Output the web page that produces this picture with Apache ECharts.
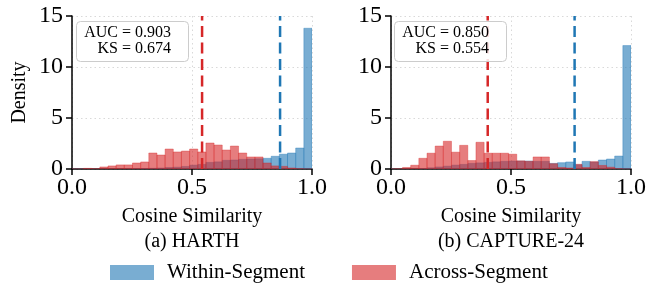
<!DOCTYPE html>
<html><head><meta charset="utf-8">
<script src="https://cdn.jsdelivr.net/npm/echarts@6/dist/echarts.min.js"></script>
<style>html,body{margin:0;padding:0;background:#fff}#c{width:659px;height:284px}</style>
</head><body><div id="c"></div>
<script>
// ---- data ----
const binStart = -0.02;
const binWidth = 0.034;
const harthWithin   = [0,0,0,0,0,0,0,0.02,0.03,0.05,0.07,0.1,0.15,0.18,0.25,0.38,0.45,0.65,0.7,0.85,0.88,0.95,0.98,1.0,1.05,1.25,1.45,1.57,2.06,13.8];
const harthAcross   = [0,0,0.06,0.03,0.2,0.3,0.4,0.4,0.59,0.69,1.57,1.37,1.96,1.67,1.76,1.96,1.67,2.55,2.35,1.86,2.25,1.57,1.18,1.18,0.59,0.3,0.26,0.1,0.03,0];
const captureWithin = [0,0,0,0,0.05,0.12,0.2,0.28,0.38,0.45,0.55,0.6,0.65,0.7,0.75,0.78,0.78,0.78,0.75,0.75,0.55,0.62,0.69,0.42,0.75,0.68,0.88,0.98,1.27,12.1];
const captureAcross = [0,0.02,0.15,0.37,1.05,1.55,2.25,2.72,1.65,2.32,0.83,2.62,1.55,1.55,1.55,1.45,0.8,0.75,1.18,1.18,0.52,0.15,0.1,0.46,0.15,0.72,0.35,0.18,0.03,0];
const meanWithin = [0.867, 0.765];
const meanAcross = [0.542, 0.403];
const aucValues = ['0.903', '0.850'];
const ksValues = ['0.674', '0.554'];
const panelTitles = ['(a) HARTH', '(b) CAPTURE-24'];
const seriesNames = ['Within-Segment', 'Across-Segment'];
const xLabel = 'Cosine Similarity';
const yLabel = 'Density';

// ---- styling ----
const FONT = "'Liberation Serif','Times New Roman',serif";
const BLUE = 'rgba(31,119,180,0.6)';
const RED = 'rgba(214,39,40,0.6)';
const BLUE_LINE = '#1f77b4';
const RED_LINE = '#d62728';

function toBins(vals) {
  return vals.map((v, k) => [binStart + k * binWidth, binStart + (k + 1) * binWidth, v]);
}
function makeRender(color) {
  return function (params, api) {
    const p0 = api.coord([api.value(0), 0]);
    const p1 = api.coord([api.value(1), api.value(2)]);
    return {
      type: 'rect',
      shape: { x: p0[0], y: p1[1], width: p1[0] - p0[0], height: p0[1] - p1[1] },
      style: { fill: color, stroke: color, lineWidth: 0.6 }
    };
  };
}

const grids = [
  { left: 72, right: 347, top: 16, bottom: 115 },
  { left: 391, right: 28, top: 16, bottom: 115 }
];
const xAxes = [], yAxes = [], series = [];
const panels = [[harthWithin, harthAcross], [captureWithin, captureAcross]];
panels.forEach((pd, i) => {
  xAxes.push({
    type: 'value', gridIndex: i, min: 0, max: 1, interval: 0.5,
    axisLine: { show: true, onZero: false, lineStyle: { color: '#000', width: 1.5 } },
    axisTick: { show: true, length: 6, lineStyle: { color: '#000', width: 1.5 } },
    axisLabel: { formatter: v => v.toFixed(1), fontSize: 24, color: '#000', fontFamily: FONT, margin: 7 },
    splitLine: { show: true, lineStyle: { type: [1.5, 3], color: '#cfcfcf', width: 0.8 } },
    name: xLabel, nameLocation: 'middle', nameGap: 38,
    nameTextStyle: { fontSize: 20, color: '#000', fontFamily: FONT }
  });
  yAxes.push({
    type: 'value', gridIndex: i, min: 0, max: 15, interval: 5,
    axisLine: { show: true, onZero: false, lineStyle: { color: '#000', width: 1.5 } },
    axisTick: { show: true, length: 6, lineStyle: { color: '#000', width: 1.5 } },
    axisLabel: { fontSize: 24, color: '#000', fontFamily: FONT, margin: 9 },
    splitLine: { show: true, lineStyle: { type: [1.5, 3], color: '#cfcfcf', width: 0.8 } },
    name: i === 0 ? yLabel : '', nameLocation: 'middle', nameGap: 42,
    nameTextStyle: { fontSize: 20, color: '#000', fontFamily: FONT }
  });
  series.push({
    type: 'custom', name: seriesNames[0], xAxisIndex: i, yAxisIndex: i, clip: true,
    itemStyle: { color: BLUE }, renderItem: makeRender(BLUE), data: toBins(pd[0]), z: 2
  });
  series.push({
    type: 'custom', name: seriesNames[1], xAxisIndex: i, yAxisIndex: i, clip: true,
    itemStyle: { color: RED }, renderItem: makeRender(RED), data: toBins(pd[1]), z: 3
  });
  series.push({
    type: 'line', name: 'meanAcross' + i, xAxisIndex: i, yAxisIndex: i, symbol: 'none', silent: true,
    data: [[meanAcross[i], 0], [meanAcross[i], 15]],
    lineStyle: { color: RED_LINE, width: 2.5, type: [11, 5.5] }, z: 5
  });
  series.push({
    type: 'line', name: 'meanWithin' + i, xAxisIndex: i, yAxisIndex: i, symbol: 'none', silent: true,
    data: [[meanWithin[i], 0], [meanWithin[i], 15]],
    lineStyle: { color: BLUE_LINE, width: 2.5, type: [11, 5.5] }, z: 5
  });
});

const boxes = [
  { x: 76, y: 21, w: 112, h: 40, tx: 171 },
  { x: 394, y: 21, w: 112, h: 40, tx: 489 }
];
const graphics = [];
boxes.forEach((b, i) => {
  graphics.push({ type: 'rect', z: 100, shape: { x: b.x + 0.5, y: b.y + 0.5, width: b.w, height: b.h, r: 4 },
    style: { fill: 'rgba(255,255,255,0.85)', stroke: '#cccccc', lineWidth: 1 } });
  graphics.push({ type: 'text', z: 101, x: b.tx, y: 33,
    style: { text: 'AUC = ' + aucValues[i], font: '16px ' + FONT, fill: '#000', textAlign: 'right', textVerticalAlign: 'middle' } });
  graphics.push({ type: 'text', z: 101, x: b.tx, y: 49,
    style: { text: 'KS = ' + ksValues[i], font: '16px ' + FONT, fill: '#000', textAlign: 'right', textVerticalAlign: 'middle' } });
});
graphics.push({ type: 'text', x: 192, y: 242, style: { text: panelTitles[0], font: '20px ' + FONT, fill: '#000', textAlign: 'center', textVerticalAlign: 'middle' } });
graphics.push({ type: 'text', x: 511, y: 242, style: { text: panelTitles[1], font: '20px ' + FONT, fill: '#000', textAlign: 'center', textVerticalAlign: 'middle' } });

const chart = echarts.init(document.getElementById('c'), null, { renderer: 'canvas' });
chart.setOption({
  animation: false,
  backgroundColor: '#fff',
  grid: grids,
  xAxis: xAxes,
  yAxis: yAxes,
  series: series,
  legend: {
    data: seriesNames, left: 105, top: 257, icon: 'rect', itemWidth: 44, itemHeight: 15, itemGap: 47,
    textStyle: { fontSize: 21, color: '#000', fontFamily: FONT, padding: [0, 0, 0, 8] }
  },
  graphic: graphics
});
</script>
</body></html>
